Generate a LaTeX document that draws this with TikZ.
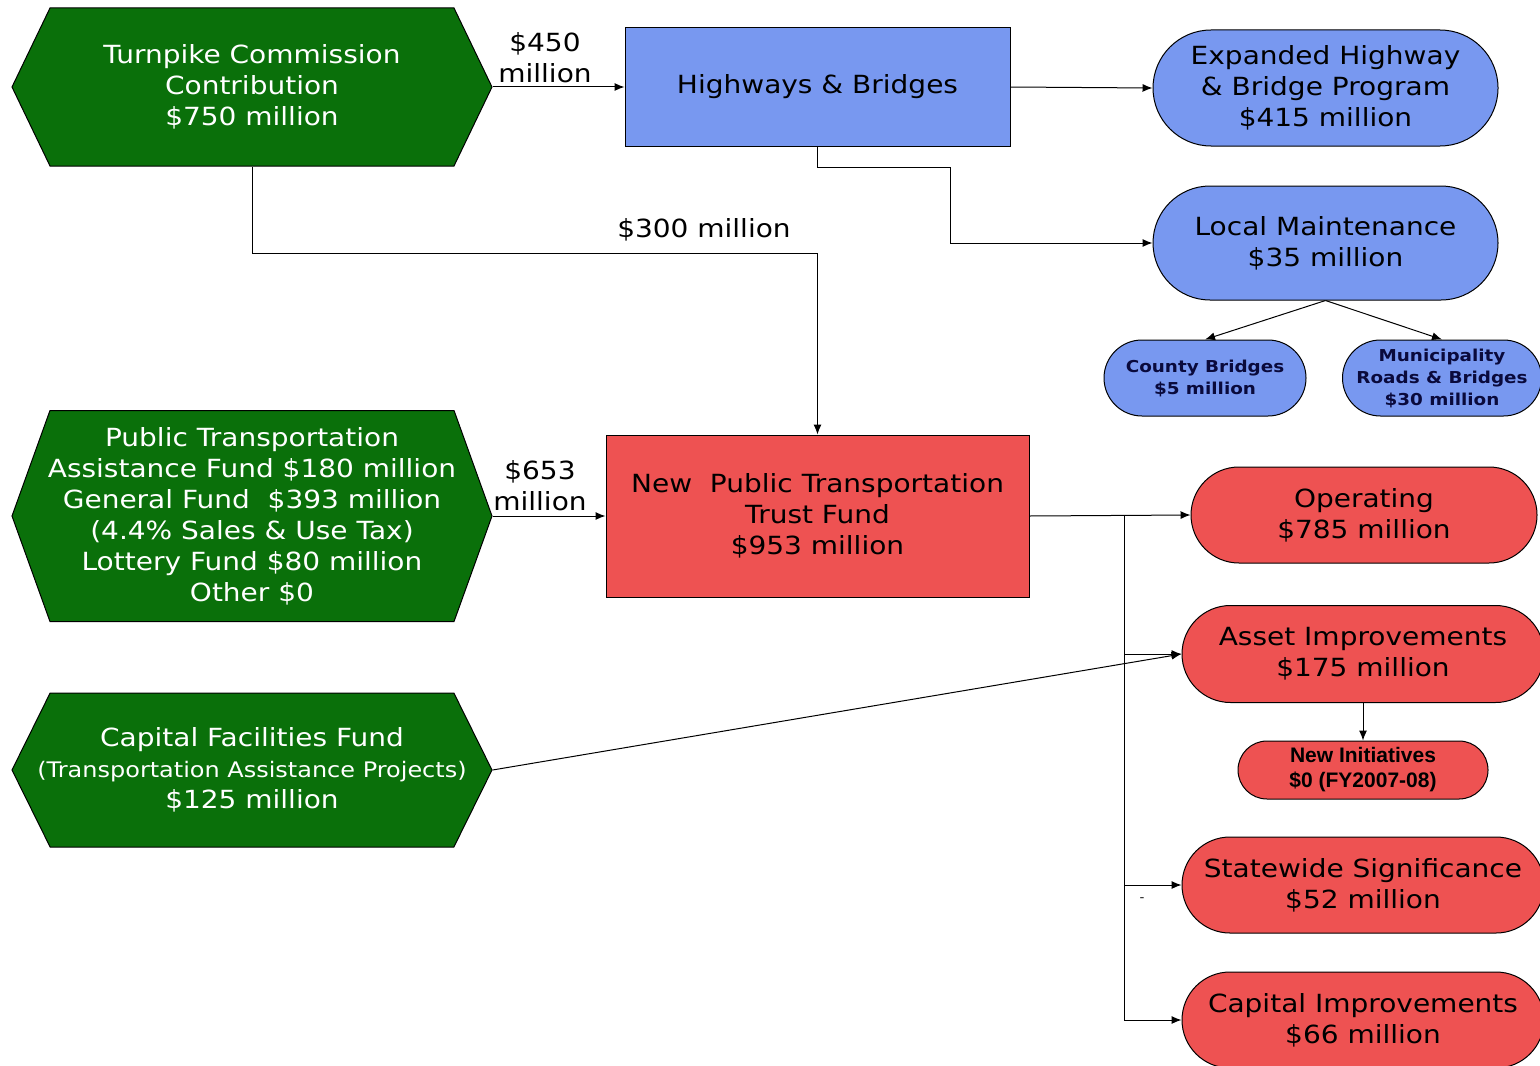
\documentclass[tikz,border=0pt]{standalone}
\usepackage{fontspec}
\setmainfont{DejaVu Sans}[FakeStretch=1.12]
\newfontfamily\narrowfont{Liberation Sans}
\usetikzlibrary{shapes.geometric,shapes.misc,shapes.symbols,arrows.meta,positioning}

\definecolor{fundgreen}{RGB}{10,112,10}
\definecolor{hwblue}{RGB}{120,152,240}
\definecolor{ptred}{RGB}{238,82,82}

\begin{document}
\begin{tikzpicture}[x=0.5pt,y=-0.5pt,
    fund/.style={signal, signal to=west and east, draw=black, line width=0.5pt,
        fill=fundgreen, text=white, align=center, inner ysep=0pt, inner xsep=-40pt,
        minimum width=240pt, font=\fontsize{12.5}{15.5}\selectfont},
    hwbox/.style={rectangle, draw=black, line width=0.5pt, fill=hwblue,
        align=center, font=\fontsize{12.5}{15.5}\selectfont},
    ptbox/.style={rectangle, draw=black, line width=0.5pt, fill=ptred,
        align=center, font=\fontsize{12.5}{15.5}\selectfont},
    hwprog/.style={rounded rectangle, draw=black, line width=0.5pt, fill=hwblue,
        align=center, inner sep=0pt, font=\fontsize{12.5}{15.5}\selectfont},
    ptprog/.style={rounded rectangle, draw=black, line width=0.5pt, fill=ptred,
        align=center, inner sep=0pt, font=\fontsize{12.5}{15.5}\selectfont},
    subprog/.style={rounded rectangle, draw=black, line width=0.5pt, fill=hwblue,
        align=center, inner sep=0pt, text={rgb,255:red,10;green,10;blue,60},
        font=\bfseries\fontsize{8.2}{11}\selectfont},
    amount/.style={align=center, inner sep=0pt, font=\fontsize{12.5}{15.5}\selectfont},
    flow/.style={line width=0.5pt, -{Latex[length=5pt,width=4pt]}},
    ]
    \useasboundingbox (0,0) rectangle (1540,1065);
    \clip (0,0) rectangle (1540,1065);

    % sources
    \node[fund, minimum height=79pt, signal pointer angle=128.6] (turnpike) at (252,87)
        {Turnpike Commission\\Contribution\\\$750 million};
    \node[fund, minimum height=105.5pt, signal pointer angle=140.4] (ptaf) at (252,516)
        {Public Transportation\\Assistance Fund \$180 million\\General Fund \ \$393 million\\(4.4\% Sales \& Use Tax)\\Lottery Fund \$80 million\\Other \$0};
    \node[fund, minimum height=77pt, signal pointer angle=127.3] (capfac) at (252,770)
        {Capital Facilities Fund\\{\fontsize{10.7}{15}\selectfont(Transportation Assistance Projects)}\\\$125 million};

    % funds
    \node[hwbox, minimum width=192.5pt, minimum height=59.5pt] (hwys) at (817.5,87) {Highways \& Bridges};
    \node[ptbox, minimum width=211.5pt, minimum height=81pt] (npttf) at (817.5,516)
        {New \ Public Transportation\\Trust Fund\\\$953 million};

    % highway programs
    \node[hwprog, minimum width=172.5pt, minimum height=58pt] (expand) at (1325.5,88)
        {Expanded Highway\\\& Bridge Program\\\$415 million};
    \node[hwprog, minimum width=172.5pt, minimum height=57pt] (localmaint) at (1325.5,243)
        {Local Maintenance\\\$35 million};
    \node[subprog, minimum width=101pt, minimum height=38pt] (county) at (1205,378)
        {County Bridges\\\$5 million};
    \node[subprog, minimum width=98.5pt, minimum height=38pt] (municip) at (1442,378)
        {Municipality\\Roads \& Bridges\\\$30 million};

    % transit programs
    \node[ptprog, minimum width=173pt, minimum height=48pt] (operating) at (1364,515)
        {Operating\\\$785 million};
    \node[ptprog, minimum width=181pt, minimum height=48.5pt] (asset) at (1363,654)
        {Asset Improvements\\\$175 million};
    \node[ptprog, minimum width=125pt, minimum height=29pt, font=\narrowfont\bfseries\fontsize{10.5}{12.5}\selectfont] (newinit) at (1363,770)
        {New Initiatives\\\$0 (FY2007-08)};
    \node[ptprog, minimum width=181pt, minimum height=48pt] (statewide) at (1363,885)
        {Statewide Significance\\\$52 million};
    \node[ptprog, minimum width=181pt, minimum height=48pt] (capimp) at (1363,1020)
        {Capital Improvements\\\$66 million};

    % amounts
    \node[amount] (amt450) at (545,58) {\$450\\million};
    \node[amount] (amt300) at (704,230) {\$300 million};
    \node[amount] (amt653) at (540,486) {\$653\\million};
    \node[inner sep=0pt, font=\fontsize{6}{6}\selectfont] (stray) at (1142,900) {-};

    \coordinate (hwbend) at (950,167);
    \coordinate (tpbend) at (817.5,253);
    \coordinate (bus) at (1124,516);

    \draw[flow] (turnpike.east) -- (hwys.west);
    \draw[flow] (hwys.east) -- (expand.west);
    \draw[flow] (hwys.south) |- (hwbend) |- (localmaint.west);
    \draw[flow] (localmaint.south) -- (county.north);
    \draw[flow] (localmaint.south) -- (municip.north);
    \draw[flow] (turnpike.south) |- (tpbend) -- (npttf.north);
    \draw[flow] (ptaf.east) -- (npttf.west);
    \draw[flow] (npttf.east) -- (operating.west);
    \draw[flow] (bus) |- (asset.west);
    \draw[flow] (bus) |- (statewide.west);
    \draw[flow] (bus) |- (capimp.west);
    \draw[flow] (capfac.east) -- (asset.west);
    \draw[flow] (asset.south) -- (newinit.north);
\end{tikzpicture}
\end{document}
